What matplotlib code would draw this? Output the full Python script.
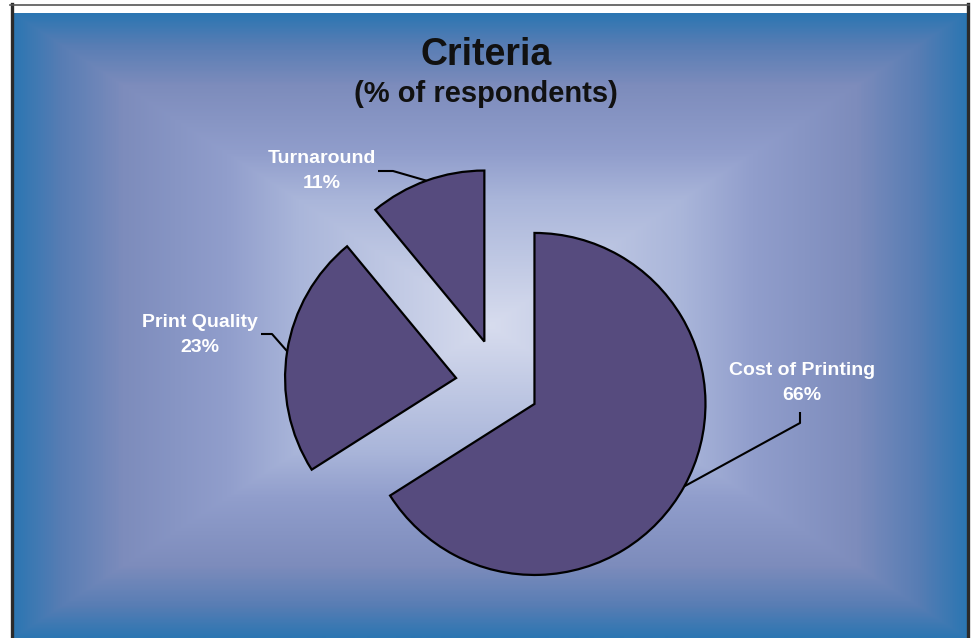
import numpy as np
import matplotlib
matplotlib.use('Agg')
import matplotlib.pyplot as plt
from matplotlib.colors import LinearSegmentedColormap
from matplotlib.lines import Line2D

plt.rcParams['font.family'] = ['Liberation Sans', 'DejaVu Sans']

# data
categories = ['Cost of Printing', 'Print Quality', 'Turnaround']
shares = [66, 23, 11]
explode = [0.23, 0.26, 0.27]   # fraction of radius
title = 'Criteria'
subtitle = '(% of respondents)'

W, H = 972, 638
pie_color = '#564b7e'

fig = plt.figure(figsize=(W / 100, H / 100), dpi=100)
fig.patch.set_facecolor('white')

# rectangular "from centre" gradient background
bg = fig.add_axes([13 / W, 0, 953 / W, 625 / H])
bg.set_axis_off()
xx = np.abs(np.linspace(-1, 1, 953))
yy = np.abs(np.linspace(-1, 1, 625))
t = np.maximum(xx[None, :], yy[:, None])
stops = [(0.0, (215, 220, 238)), (0.4, (170, 182, 218)), (0.55, (145, 158, 204)),
         (0.77, (125, 140, 188)), (0.9, (88, 125, 180)), (1.0, (44, 118, 178))]
cmap = LinearSegmentedColormap.from_list('bg', [(p, tuple(c / 255 for c in rgb)) for p, rgb in stops])
bg.imshow(t, cmap=cmap, vmin=0, vmax=1, aspect='auto', interpolation='bilinear')

# frame lines
fig.add_artist(Line2D([11.5 / W, 11.5 / W], [0, 1 - 4 / H], color='#2b2b2b', lw=2.4))
fig.add_artist(Line2D([967.5 / W, 967.5 / W], [0, 1 - 4 / H], color='#2b2b2b', lw=2.4))
fig.add_artist(Line2D([10 / W, 969 / W], [1 - 4.5 / H, 1 - 4.5 / H], color='#555555', lw=1.2))

# pie in pixel coordinates (y up)
ax = fig.add_axes([0, 0, 1, 1])
ax.patch.set_alpha(0)
cx, cy, r = 500, H - 385, 171
wedges, _ = ax.pie(shares, explode=[e * r for e in explode], startangle=90, counterclock=False,
                   colors=[pie_color] * len(shares), radius=r, center=(cx, cy),
                   wedgeprops=dict(edgecolor='black', linewidth=1.6))
ax.set_xlim(0, W)
ax.set_ylim(0, H)
ax.set_aspect('equal')
ax.set_axis_off()

# labels with leader lines (image coords: text centre, elbow, end)
label_pos = [(802, 383), (200, 335), (322, 171)]
elbows = [(800, 423), (272, 334), (393, 171)]
ends = [(800, 412), (261, 334), (378, 171)]

for w, cat, val, (tx, ty), (ex, ey), (fx, fy) in zip(wedges, categories, shares, label_pos, elbows, ends):
    mid = np.deg2rad((w.theta1 + w.theta2) / 2)
    px = w.center[0] + w.r * np.cos(mid)
    py = w.center[1] + w.r * np.sin(mid)
    ax.plot([px, ex, fx], [py, H - ey, H - fy], color='black', lw=1.5, solid_capstyle='butt')
    ax.text(tx, H - ty, f'{cat}\n{val}%', ha='center', va='center', color='white',
            fontsize=14, fontweight='bold', linespacing=1.6)

fig.text(0.5, 1 - 65 / H, title, ha='center', va='baseline', fontsize=27,
         fontweight='bold', color='#111111')
fig.text(0.5, 1 - 102 / H, subtitle, ha='center', va='baseline', fontsize=21,
         fontweight='bold', color='#111111')

fig.savefig('out.png', dpi=100)
